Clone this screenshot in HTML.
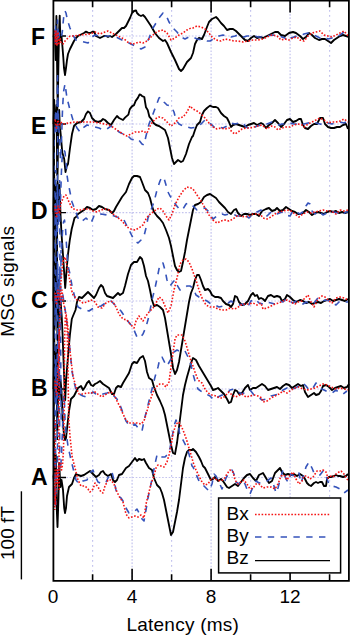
<!DOCTYPE html><html><head><meta charset="utf-8"><style>html,body{margin:0;padding:0;background:#fff;}svg{display:block;}text{font-family:"Liberation Sans",sans-serif;}</style></head><body>
<svg width="350" height="636" viewBox="0 0 350 636">
<rect width="350" height="636" fill="#fff"/>
<path d="M92.6 0.05V580.8M171.6 0.05V580.8M250.6 0.05V580.8M329.6 0.05V580.8" stroke="#c4c4ee" stroke-width="1.2" stroke-dasharray="1.8 3.2" fill="none"/>
<path d="M132.1 0.85V580.8M211.1 0.85V580.8M290.1 0.85V580.8M53.1 36.0H348.9M53.1 124.0H348.9M53.1 212.6H348.9M53.1 301.0H348.9M53.1 389.0H348.9M53.1 477.5H348.9" stroke="#c4c4ee" stroke-width="1.2" stroke-dasharray="1.65 1.653" fill="none"/>
<g fill="none" stroke-linejoin="round">
<path d="M53.5 36.0L55.0 40.0L55.7 60.0L56.4 16.0L57.1 60.0L57.8 102.0L58.5 60.0L59.1 30.0L59.7 15.6L60.4 40.0L61.4 35.0L62.3 45.0L63.3 57.5L64.0 68.0L65.0 75.0L66.0 68.0L67.0 60.0L68.0 54.0L70.0 49.0L72.0 45.0L74.0 41.0L76.0 38.0L78.0 36.0L80.0 35.0L84.0 33.0L86.0 31.6L88.0 32.6L90.0 33.0L92.0 32.0L94.0 31.6L96.0 36.0L98.0 37.0L100.0 38.0L102.0 37.0L104.0 36.0L106.0 36.0L108.0 37.0L110.0 36.0L112.0 37.0L114.0 35.6L116.0 34.0L118.0 32.0L120.0 30.0L122.0 28.0L124.0 28.0L126.0 26.0L128.0 22.0L130.0 18.0L132.0 13.0L134.0 11.0L136.0 10.4L137.0 13.0L139.0 15.0L141.0 16.0L143.0 15.0L145.0 17.0L147.0 20.0L151.0 26.0L155.0 33.0L159.0 38.0L163.0 41.0L165.0 40.0L167.0 43.0L171.0 52.0L175.0 60.0L179.0 69.0L181.0 71.0L183.0 69.0L187.0 62.0L191.0 58.0L193.0 53.0L195.0 44.0L197.0 40.0L199.0 38.0L202.0 39.0L204.0 35.0L207.0 27.0L209.0 22.0L212.0 19.0L216.0 17.0L218.0 19.0L221.0 23.0L224.0 26.0L227.0 30.0L230.0 29.0L233.0 29.0L236.0 31.0L239.0 34.0L242.0 37.0L245.0 40.0L248.0 41.0L251.0 38.0L254.0 36.0L257.0 38.0L260.0 37.0L263.0 38.0L267.0 36.0L271.0 34.0L275.0 32.0L278.0 32.0L281.0 35.0L285.0 36.0L289.0 33.0L293.0 32.0L296.0 33.0L300.0 36.0L303.0 39.0L306.0 37.0L309.0 33.0L312.0 35.0L315.0 38.0L319.0 40.0L322.0 39.0L325.0 39.0L328.0 41.0L331.0 43.0L334.0 40.0L337.0 38.0L340.0 36.0L343.0 35.0L346.0 36.0L349.0 37.0M53.5 124.0L54.2 100.0L54.8 131.0L55.5 124.0L56.5 105.0L57.2 175.0L58.0 140.0L59.2 110.0L59.9 129.0L60.4 131.0L62.3 152.5L64.2 159.0L65.5 172.0L66.6 166.6L68.0 164.0L70.0 148.0L72.0 134.0L74.0 126.0L77.0 123.0L81.0 122.0L84.0 119.0L86.0 114.0L88.0 111.4L90.0 113.0L92.0 118.0L95.0 121.0L98.0 122.0L101.0 121.0L103.0 119.0L105.0 120.0L108.0 123.0L111.0 125.0L114.0 120.0L117.0 116.0L119.0 118.0L123.0 120.0L125.0 117.6L128.4 114.6L129.7 109.4L131.9 106.4L134.0 105.1L135.7 100.9L137.9 97.9L139.6 94.4L140.9 94.9L142.1 96.1L144.3 97.0L145.1 102.1L146.0 107.3L147.7 109.9L149.4 116.7L151.6 119.3L153.3 122.7L156.0 125.0L159.0 126.0L162.0 128.0L165.0 130.0L168.0 138.0L170.0 148.0L172.0 158.0L174.0 164.0L176.0 162.0L178.0 160.0L181.0 162.0L183.0 161.0L186.0 154.0L189.0 144.0L192.0 137.0L193.0 136.0L195.0 130.0L197.0 125.0L200.0 122.0L202.0 115.0L204.0 111.0L207.0 108.0L210.0 105.6L213.0 107.0L216.0 107.0L218.0 108.0L221.0 113.0L224.0 116.0L227.0 118.0L229.0 122.0L231.0 127.0L233.0 125.0L236.0 124.0L239.0 125.0L242.0 126.0L245.0 127.0L248.0 125.0L251.0 124.0L254.0 123.0L257.0 125.0L261.0 123.0L263.0 124.0L266.0 128.0L269.0 125.0L272.0 123.0L275.0 120.0L278.0 123.0L281.0 127.0L284.0 124.0L287.0 120.0L290.0 119.0L293.0 122.0L296.0 121.0L299.0 119.0L301.0 119.0L303.0 125.0L305.0 128.0L308.0 129.0L311.0 126.0L314.0 124.0L317.0 124.0L320.0 118.0L323.0 118.0L325.0 124.0L328.0 127.0L331.0 128.0L334.0 128.0L337.0 127.0L340.0 127.0L343.0 125.0L346.0 124.0L348.0 129.0M53.5 212.0L54.2 175.0L54.8 230.0L55.5 185.0L56.5 250.0L57.5 183.0L58.5 214.0L59.5 185.0L60.5 214.0L61.4 232.0L63.0 255.0L65.2 288.0L66.6 270.0L67.9 255.0L69.8 240.0L71.7 229.0L73.0 224.0L74.5 218.0L76.0 217.0L78.0 214.0L81.0 212.0L84.0 210.0L87.0 207.0L90.0 208.0L93.0 210.0L96.0 209.0L99.0 206.0L102.0 207.0L105.0 209.0L109.0 210.0L112.0 213.0L114.0 211.0L116.0 207.0L119.0 202.0L122.0 197.0L126.0 192.0L129.0 184.0L132.0 178.0L134.0 176.0L137.0 176.0L140.0 177.0L142.0 182.0L145.0 190.0L148.0 193.0L150.0 198.0L152.0 206.0L154.0 212.0L157.0 216.0L160.0 219.0L163.0 223.0L166.0 230.0L169.0 238.0L171.0 246.0L173.0 256.0L175.0 266.0L177.0 270.0L179.0 272.0L181.0 271.0L183.0 262.0L185.0 252.0L187.0 240.0L189.0 230.0L191.0 220.0L193.0 210.0L195.0 205.0L198.0 204.0L201.0 202.0L204.0 197.0L207.0 195.0L210.0 194.0L213.0 196.0L216.0 198.0L219.0 202.0L222.0 205.0L225.0 208.0L228.0 212.0L231.0 214.0L234.0 210.0L236.0 209.0L238.0 213.0L241.0 216.0L244.0 214.0L247.0 214.0L250.0 215.0L253.0 214.0L256.0 214.0L259.0 216.0L262.0 211.0L266.0 209.0L269.0 208.0L272.0 211.0L275.0 210.0L277.0 208.0L280.0 211.0L283.0 210.0L286.0 207.0L289.0 209.0L292.0 211.0L295.0 212.0L298.0 214.0L301.0 214.0L303.0 213.0L306.0 210.0L309.0 212.0L312.0 215.0L315.0 213.0L318.0 212.0L321.0 213.0L324.0 214.0L327.0 212.0L330.0 211.0L333.0 212.0L336.0 211.0L339.0 213.0L342.0 212.0L345.0 213.0L348.0 212.0M53.5 301.0L54.0 250.0L54.6 330.0L56.5 240.0L57.5 340.0L58.5 280.0L59.5 320.0L60.5 300.0L61.7 316.0L62.6 335.0L63.5 360.0L64.5 385.0L65.2 400.0L66.1 380.0L68.0 356.6L69.9 335.0L71.8 319.0L73.0 316.0L75.5 310.0L77.0 302.0L79.0 297.0L82.0 298.0L85.0 295.0L88.0 292.0L91.0 295.0L94.0 298.0L96.0 295.0L99.0 288.0L101.0 285.0L103.0 287.0L105.0 293.0L107.0 296.0L110.0 297.0L113.0 298.0L116.0 295.0L118.0 293.0L120.0 295.0L123.0 293.0L125.0 286.0L128.0 274.0L131.0 265.0L134.0 262.0L137.0 262.0L140.0 257.0L142.0 259.0L144.0 266.0L146.0 276.0L148.0 281.0L150.0 290.0L152.0 300.0L154.0 306.0L157.0 305.0L160.0 307.0L163.0 310.0L165.0 318.0L167.0 330.0L169.0 342.0L171.0 354.0L173.0 368.0L175.0 374.0L177.0 370.0L179.0 362.0L181.0 350.0L183.0 338.0L185.0 326.0L187.0 314.0L189.0 302.0L191.0 293.0L193.0 288.0L195.0 280.0L197.0 275.0L199.0 275.0L201.0 280.0L203.0 286.0L205.0 290.0L208.0 289.0L210.0 291.0L212.0 295.0L215.0 297.0L218.0 297.0L221.0 298.0L223.0 301.0L226.0 304.0L229.0 305.0L231.0 307.0L233.0 304.0L235.0 296.0L237.0 297.0L239.0 302.0L242.0 305.0L245.0 304.0L248.0 301.0L251.0 295.0L253.0 293.0L255.0 296.0L257.0 295.0L259.0 299.0L261.0 298.0L263.0 299.0L265.0 301.0L268.0 296.0L271.0 295.0L274.0 297.0L277.0 296.0L280.0 297.0L282.0 301.0L285.0 299.0L287.0 295.0L290.0 297.0L293.0 300.0L296.0 302.0L300.0 300.0L303.0 301.0L306.0 303.0L309.0 302.0L312.0 304.0L315.0 303.0L318.0 302.0L321.0 303.0L324.0 301.0L327.0 300.0L330.0 299.0L333.0 301.0L336.0 300.0L339.0 299.0L342.0 300.0L345.0 301.0L348.0 299.0M53.5 389.0L54.3 340.0L55.0 400.0L56.5 345.0L57.3 430.0L58.5 370.0L59.5 400.0L60.5 380.0L61.4 389.0L62.8 421.5L64.0 435.0L65.0 440.0L66.0 438.0L67.0 429.0L69.0 411.0L71.0 399.0L74.0 396.0L76.0 392.0L78.0 388.0L81.0 386.0L83.0 390.0L85.0 387.0L87.0 383.0L89.0 381.0L91.0 385.0L93.0 386.0L95.0 384.0L97.0 383.0L100.0 381.0L103.0 384.0L106.0 386.0L109.0 388.0L112.0 394.0L114.0 394.0L116.0 388.0L118.0 386.0L121.0 387.0L123.0 383.0L126.0 378.0L129.0 373.0L132.0 364.0L134.0 362.0L137.0 363.0L140.0 358.0L143.0 356.0L145.0 361.0L147.0 372.0L149.0 378.0L152.0 380.0L154.0 387.0L157.0 395.0L160.0 401.0L163.0 408.0L165.0 415.0L167.0 425.0L169.0 435.0L171.0 445.0L173.0 453.0L175.0 454.0L177.0 443.0L179.0 427.0L181.0 411.0L183.0 395.0L185.0 385.0L187.0 377.0L189.0 370.0L191.0 363.0L193.0 358.0L196.0 360.0L199.0 366.0L202.0 371.0L205.0 376.0L208.0 381.0L211.0 386.0L213.0 390.0L216.0 389.0L218.0 388.0L221.0 391.0L224.0 394.0L227.0 399.0L229.0 403.0L231.0 402.0L233.0 395.0L235.0 390.0L237.0 391.0L239.0 394.0L242.0 393.0L245.0 388.0L248.0 385.0L250.0 390.0L253.0 388.0L256.0 388.0L259.0 386.0L262.0 384.0L265.0 386.0L268.0 390.0L271.0 389.0L274.0 388.0L277.0 387.0L280.0 389.0L283.0 386.0L286.0 384.0L289.0 385.0L292.0 388.0L295.0 386.0L298.0 384.0L301.0 386.0L303.0 385.0L305.0 392.0L308.0 397.0L311.0 395.0L314.0 393.0L316.0 395.0L319.0 394.0L321.0 391.0L323.0 386.0L326.0 385.0L329.0 387.0L332.0 390.0L335.0 388.0L338.0 387.0L341.0 386.0L344.0 388.0L347.0 387.0L349.0 384.0M53.5 477.0L55.0 465.0L55.8 455.0L56.6 505.0L57.5 527.0L58.4 500.0L59.2 463.0L60.4 487.0L61.5 480.0L63.0 490.0L64.2 508.0L65.0 513.0L66.0 508.0L67.0 496.0L69.0 487.0L72.0 484.0L74.0 478.0L76.0 474.0L78.0 475.0L81.0 476.0L84.0 475.0L87.0 473.0L90.0 471.0L93.0 474.0L96.0 477.0L99.0 475.0L101.0 472.0L103.0 471.0L105.0 474.0L108.0 476.0L111.0 474.0L113.0 480.0L115.0 482.0L117.0 480.0L119.0 475.0L122.0 474.0L126.0 468.0L129.0 466.0L132.0 462.0L135.0 458.0L137.0 461.0L139.0 459.0L142.0 460.0L144.0 459.0L146.0 463.0L149.0 468.0L152.0 470.0L154.0 478.0L157.0 485.0L160.0 488.0L162.0 493.0L164.0 500.0L166.0 510.0L168.0 520.0L170.0 530.0L171.0 535.0L173.0 532.0L175.0 522.0L177.0 512.0L179.0 500.0L181.0 484.0L183.0 468.0L185.0 458.0L187.0 452.0L189.0 450.0L192.0 450.0L193.0 449.0L196.0 452.0L199.0 457.0L201.0 461.0L203.0 466.0L205.0 468.0L207.0 472.0L209.0 476.0L211.0 480.0L213.0 479.0L215.0 477.0L218.0 481.0L221.0 479.0L223.0 481.0L225.0 484.0L227.0 487.0L229.0 488.0L232.0 486.0L235.0 484.0L238.0 486.0L241.0 482.0L244.0 478.0L247.0 475.0L250.0 474.0L253.0 478.0L256.0 481.0L259.0 475.0L263.0 473.0L266.0 478.0L269.0 483.0L272.0 481.0L275.0 473.0L278.0 470.0L280.0 468.0L282.0 472.0L285.0 475.0L288.0 474.0L291.0 475.0L294.0 474.0L297.0 476.0L300.0 474.0L303.0 476.0L305.0 479.0L307.0 483.0L309.0 485.0L311.0 486.0L314.0 483.0L316.0 482.0L318.0 483.0L320.0 482.0L322.0 482.0L324.0 486.0L326.0 486.0L327.0 479.0L329.0 477.0L331.0 477.0L334.0 476.0L336.0 475.0L338.0 476.0L340.0 476.0L343.0 477.0L346.0 476.0L348.0 474.0" stroke="#000" stroke-width="1.85"/>
<path d="M54.1 100L54.3 250L54 400L54.2 460M57.3 60L57.8 150L57.2 250L57.7 350L57.3 440" stroke="#000" stroke-width="1.5"/>
<path d="M60.4 36.0H66M60.4 124.0H66M60.4 212.6H66M60.4 301.0H66M60.4 389.0H66M60.4 477.5H66" stroke="#000" stroke-width="1.4"/>
<path d="M53.5 36.0L54.5 42.0L55.5 24.0L56.5 44.0L57.5 20.0L58.5 40.0L59.5 33.0L60.5 38.0L61.5 36.0L62.3 32.0L63.0 24.0L64.0 14.0L65.0 11.0L66.0 13.0L67.0 18.0L68.0 22.0L70.0 28.0L72.0 33.0L74.0 37.0L76.0 40.0L80.0 41.0L84.0 42.0L88.0 43.0L90.0 40.0L92.0 37.0L95.0 35.0L99.0 36.0L103.0 37.0L106.0 36.0L110.0 36.0L114.0 36.0L118.0 38.0L122.0 40.0L126.0 42.0L129.0 43.0L135.0 46.0L141.0 49.0L145.0 47.0L149.0 38.0L153.0 28.0L159.0 18.0L163.0 13.0L166.0 15.0L169.0 22.0L173.0 28.0L177.0 32.0L181.0 37.0L185.0 39.0L189.0 37.0L193.0 37.0L197.0 39.0L203.0 40.0L207.0 41.0L210.0 41.0L215.0 38.0L219.0 36.0L223.0 35.0L226.0 36.0L231.0 37.0L235.0 36.0L238.0 35.0L241.0 36.0L244.0 37.0L247.0 36.0L251.0 36.0L255.0 36.0L258.0 37.0L261.0 37.0L263.0 37.0L267.0 36.0L273.0 35.0L279.0 36.0L285.0 38.0L287.0 41.0L291.0 38.0L297.0 36.0L300.0 36.0L304.0 34.0L308.0 33.0L312.0 34.0L316.0 36.0L320.0 38.0L324.0 37.0L328.0 39.0L332.0 38.0L336.0 37.0L340.0 35.0L344.0 32.0L348.0 33.0M53.5 124.0L54.5 135.0L55.5 110.0L56.5 135.0L57.5 78.0L58.5 120.0L59.5 140.0L60.5 160.0L61.5 140.0L62.5 110.0L63.5 92.0L65.0 84.0L67.0 98.0L70.0 110.0L73.0 120.0L77.0 128.0L80.0 132.0L83.0 128.0L87.0 125.0L91.0 126.0L95.0 127.0L99.0 128.0L103.0 130.0L107.0 129.0L111.0 126.0L115.0 128.0L119.0 132.0L123.0 134.0L127.0 135.0L131.0 139.0L135.0 140.0L138.0 139.0L142.0 144.0L144.0 145.0L146.0 136.0L149.0 124.0L153.0 114.0L156.0 106.0L159.0 98.0L161.0 97.0L164.0 102.0L167.0 105.0L171.0 106.0L174.0 112.0L176.0 120.0L179.0 124.0L183.0 126.0L187.0 127.0L191.0 128.0L197.0 127.0L201.0 124.0L205.0 120.0L208.0 122.0L212.0 125.0L215.0 128.0L219.0 127.0L223.0 128.0L227.0 126.0L231.0 123.0L235.0 124.0L239.0 123.0L243.0 123.0L246.0 127.0L250.0 129.0L253.0 128.0L257.0 126.0L261.0 125.0L263.0 126.0L267.0 124.0L272.0 122.0L275.0 123.0L279.0 125.0L282.0 124.0L286.0 124.0L290.0 123.0L294.0 124.0L298.0 124.0L301.0 125.0L304.0 124.0L308.0 123.0L312.0 122.0L316.0 123.0L320.0 124.0L324.0 125.0L328.0 123.0L332.0 124.0L336.0 123.0L340.0 122.0L344.0 123.0L348.0 121.0M53.5 212.0L54.5 225.0L55.5 195.0L56.5 235.0L57.5 185.0L58.5 225.0L59.5 190.0L60.5 200.0L61.3 175.0L62.0 160.0L63.0 152.0L64.0 150.0L65.0 152.0L66.0 162.0L67.0 175.0L68.0 182.0L70.0 192.0L72.0 202.0L75.0 210.0L78.0 218.0L81.0 222.0L86.0 218.0L91.0 223.0L94.0 216.0L98.0 216.0L101.0 214.0L107.0 215.0L111.0 215.0L117.0 217.0L123.0 218.0L126.0 224.0L129.0 230.0L132.0 236.0L135.0 241.0L138.0 243.0L141.0 240.0L144.0 236.0L146.0 228.0L148.0 218.0L151.0 210.0L154.0 202.0L157.0 190.0L160.0 181.0L162.0 177.0L164.0 178.0L166.0 185.0L168.0 192.0L170.0 196.0L173.0 200.0L176.0 205.0L180.0 210.0L183.0 209.0L186.0 204.0L189.0 203.0L192.0 205.0L197.0 210.0L201.0 209.0L205.0 208.0L209.0 212.0L213.0 219.0L217.0 216.0L222.0 214.0L225.0 215.0L229.0 214.0L233.0 214.0L237.0 216.0L241.0 216.0L245.0 215.0L249.0 218.0L253.0 214.0L257.0 212.0L261.0 210.0L265.0 214.0L267.0 216.0L271.0 212.0L274.0 213.0L277.0 214.0L282.0 212.0L285.0 215.0L290.0 216.0L293.0 211.0L296.0 212.0L300.0 214.0L304.0 211.0L306.0 206.0L308.0 203.0L310.0 204.0L312.0 211.0L315.0 214.0L319.0 211.0L323.0 215.0L327.0 213.0L331.0 211.0L334.0 212.0L338.0 213.0L342.0 215.0L346.0 212.0L348.0 212.0M53.5 301.0L54.5 315.0L55.5 280.0L56.5 320.0L57.5 262.0L58.5 300.0L59.5 270.0L60.5 280.0L61.5 250.0L62.5 232.0L63.5 222.0L64.5 220.0L65.5 228.0L66.5 245.0L67.5 260.0L68.5 268.0L70.0 274.0L72.0 286.0L75.0 298.0L78.0 307.0L82.0 309.0L86.0 310.0L89.0 311.0L92.0 309.0L95.0 308.0L98.0 307.0L101.0 306.0L104.0 304.0L107.0 302.0L111.0 301.0L114.0 304.0L117.0 307.0L121.0 311.0L123.0 314.0L127.0 320.0L131.0 325.0L134.0 330.0L137.0 337.0L140.0 338.0L143.0 334.0L146.0 327.0L149.0 316.0L152.0 300.0L155.0 288.0L158.0 274.0L160.0 264.0L163.0 263.0L165.0 270.0L167.0 280.0L170.0 286.0L173.0 282.0L175.0 280.0L177.0 285.0L180.0 290.0L183.0 289.0L187.0 286.0L190.0 286.0L193.0 288.0L196.0 295.0L199.0 297.0L203.0 299.0L207.0 301.0L211.0 304.0L215.0 305.0L219.0 307.0L223.0 306.0L227.0 304.0L231.0 301.0L235.0 304.0L239.0 305.0L243.0 304.0L247.0 308.0L251.0 301.0L255.0 299.0L259.0 303.0L263.0 304.0L267.0 302.0L271.0 303.0L275.0 304.0L279.0 301.0L283.0 302.0L286.0 299.0L289.0 301.0L293.0 303.0L296.0 301.0L300.0 303.0L303.0 304.0L306.0 302.0L310.0 304.0L314.0 303.0L318.0 298.0L322.0 301.0L326.0 300.0L330.0 301.0L333.0 303.0L336.0 305.0L340.0 301.0L344.0 302.0L348.0 302.0M53.5 389.0L54.5 400.0L55.5 360.0L56.5 405.0L57.5 345.0L58.5 380.0L59.5 330.0L60.5 315.0L61.5 298.0L62.5 292.0L63.6 300.0L65.5 312.0L67.3 326.0L70.0 350.0L72.0 371.0L73.6 380.0L76.0 390.0L79.0 394.0L83.0 396.0L86.0 397.0L89.0 395.0L93.0 392.0L96.0 394.0L99.0 395.0L103.0 394.0L107.0 393.0L110.0 392.0L113.0 395.0L117.0 399.0L120.0 405.0L123.0 413.0L126.0 421.0L129.0 425.0L132.0 426.0L135.0 424.0L139.0 429.0L142.0 431.0L144.0 421.0L146.0 413.0L149.0 401.0L152.0 389.0L155.0 377.0L158.0 367.0L160.0 358.0L162.0 357.0L165.0 363.0L167.0 366.0L171.0 359.0L174.0 352.0L177.0 350.0L181.0 352.0L185.0 351.0L188.0 357.0L191.0 365.0L193.0 374.0L195.0 381.0L198.0 389.0L202.0 392.0L206.0 394.0L210.0 396.0L214.0 400.0L218.0 397.0L222.0 395.0L226.0 395.0L230.0 390.0L234.0 389.0L238.0 392.0L242.0 394.0L246.0 392.0L250.0 390.0L254.0 395.0L258.0 397.0L262.0 400.0L267.0 399.0L271.0 396.0L275.0 395.0L279.0 394.0L283.0 390.0L287.0 388.0L291.0 390.0L295.0 388.0L299.0 386.0L303.0 383.0L306.0 386.0L309.0 390.0L313.0 388.0L316.0 383.0L320.0 388.0L324.0 390.0L328.0 392.0L332.0 393.0L336.0 390.0L340.0 393.0L343.0 394.0L347.0 391.0M53.5 477.0L54.5 495.0L55.5 505.0L56.5 480.0L57.5 470.0L58.5 476.0L59.5 465.0L60.5 470.0L61.5 455.0L62.5 430.0L63.2 405.0L63.8 395.0L64.4 400.0L65.0 420.0L66.0 432.0L67.3 441.0L68.0 446.0L71.0 460.0L74.0 472.0L76.0 480.0L79.0 484.0L83.0 481.0L87.0 480.0L90.0 473.0L93.0 470.0L95.0 476.0L98.0 482.0L102.0 484.0L106.0 482.0L110.0 474.0L112.0 472.0L114.0 480.0L116.0 490.0L118.0 496.0L121.0 498.0L123.0 501.0L126.0 508.0L129.0 513.0L132.0 512.0L135.0 511.0L137.0 509.0L139.0 513.0L142.0 519.0L144.0 521.0L146.0 510.0L148.0 498.0L151.0 484.0L153.0 474.0L155.0 464.0L157.0 455.0L159.0 454.0L162.0 457.0L165.0 457.0L168.0 454.0L170.0 448.0L172.0 438.0L174.0 426.0L176.0 420.0L178.0 424.0L180.0 436.0L183.0 440.0L186.0 446.0L189.0 454.0L192.0 466.0L193.0 467.0L196.0 474.0L199.0 481.0L202.0 484.0L205.0 487.0L209.0 491.0L212.0 484.0L214.0 474.0L216.0 476.0L219.0 482.0L222.0 489.0L224.0 484.0L226.0 478.0L229.0 473.0L232.0 470.0L234.0 474.0L236.0 482.0L239.0 484.0L242.0 480.0L245.0 484.0L248.0 492.0L250.0 494.0L253.0 487.0L256.0 481.0L259.0 483.0L263.0 482.0L267.0 481.0L271.0 478.0L274.0 486.0L276.0 493.0L278.0 488.0L280.0 480.0L283.0 470.0L286.0 479.0L288.0 482.0L291.0 474.0L295.0 477.0L299.0 473.0L301.0 483.0L304.0 474.0L306.0 467.0L309.0 462.0L312.0 468.0L314.0 473.0L317.0 474.0L320.0 475.0L323.0 471.0L325.0 473.0L327.0 479.0L329.0 484.0L332.0 486.0L336.0 487.0L340.0 489.0L344.0 493.0L348.0 490.0" stroke="#3553bb" stroke-width="1.6" stroke-dasharray="6.4 6.4"/>
<path d="M54.2 130L54.6 200L54 300L54.5 420L54.2 508M53.9 230L54.2 330L53.9 440M55.8 170L55.6 220L56.1 330L55.7 440L55.6 505M57.6 75L57.9 100L57.3 200L57.8 300L57.4 420L57.6 470M59.6 180L59.9 250L59.4 350L59.8 460M61 250L60.6 330L61.1 420" stroke="#3553bb" stroke-width="1.5" stroke-dasharray="6.4 6.4" stroke-dashoffset="3"/>
<path d="M53.5 36.0L54.3 30.0L55.2 44.0L56.0 31.0L57.0 46.0L58.0 32.0L59.0 45.0L60.0 38.0L61.0 42.0L62.0 44.0L63.0 44.0L65.0 41.0L68.0 38.0L70.0 36.0L74.0 36.0L80.0 35.0L85.0 34.5L90.0 34.0L95.0 32.0L100.0 34.0L105.0 32.0L108.0 31.0L112.0 33.0L118.0 36.0L124.0 39.0L129.0 43.0L133.0 44.0L139.0 42.0L143.0 43.0L147.0 41.0L151.0 37.0L155.0 33.0L159.0 31.0L163.0 30.0L167.0 33.0L171.0 40.0L175.0 38.0L179.0 35.0L183.0 33.0L187.0 30.0L191.0 28.0L193.0 28.0L197.0 26.0L201.0 27.0L205.0 29.0L209.0 33.0L212.0 37.0L216.0 40.0L221.0 41.0L225.0 39.0L230.0 40.0L234.0 41.0L238.0 41.0L243.0 42.0L248.0 41.0L253.0 40.0L258.0 40.0L263.0 39.0L267.0 37.0L272.0 35.0L277.0 36.0L281.0 40.0L285.0 39.0L289.0 40.0L293.0 38.0L297.0 37.0L300.0 40.0L304.0 41.0L308.0 36.0L312.0 33.0L316.0 32.0L320.0 31.0L324.0 35.0L328.0 36.0L332.0 37.0L336.0 35.0L340.0 33.0L344.0 31.0L348.0 36.0M53.5 124.0L55.0 119.0L56.5 128.0L58.0 120.0L59.5 126.0L60.5 122.0L63.0 124.0L69.0 123.0L75.0 122.0L81.0 122.0L87.0 122.0L93.0 122.0L99.0 123.0L105.0 124.0L111.0 126.0L117.0 130.0L123.0 134.0L127.0 136.0L131.0 134.0L135.0 132.0L139.0 132.0L143.0 131.0L147.0 133.0L151.0 124.0L155.0 119.0L159.0 117.0L163.0 118.0L167.0 122.0L171.0 126.0L175.0 123.0L179.0 118.0L183.0 117.0L187.0 112.0L190.0 106.0L193.0 109.0L197.0 111.0L201.0 114.0L205.0 118.0L209.0 123.0L213.0 127.0L217.0 129.0L221.0 128.0L225.0 129.0L229.0 128.0L232.0 132.0L235.0 134.0L238.0 132.0L242.0 129.0L246.0 128.0L250.0 128.0L254.0 127.0L258.0 126.0L262.0 125.0L267.0 129.0L271.0 126.0L275.0 127.0L278.0 130.0L282.0 128.0L286.0 127.0L290.0 127.0L294.0 125.0L298.0 124.0L302.0 125.0L304.0 127.0L308.0 124.0L312.0 122.0L316.0 120.0L320.0 118.0L324.0 120.0L328.0 123.0L332.0 122.0L336.0 122.0L340.0 121.0L344.0 119.0L348.0 122.0M53.5 214.0L55.0 205.0L56.5 218.0L58.0 206.0L59.5 214.0L60.5 205.0L61.5 202.0L64.0 196.0L66.0 195.0L69.0 202.0L72.0 208.0L76.0 210.0L81.0 210.0L85.0 209.0L89.0 209.0L93.0 211.0L97.0 212.0L101.0 210.0L105.0 209.0L109.0 210.0L113.0 214.0L117.0 217.0L122.0 221.0L127.0 227.0L131.0 229.0L135.0 230.0L139.0 228.0L143.0 225.0L146.0 219.0L149.0 215.0L153.0 212.0L157.0 209.0L160.0 208.0L163.0 211.0L166.0 216.0L169.0 220.0L172.0 214.0L175.0 205.0L179.0 197.0L183.0 191.0L187.0 187.0L191.0 188.0L193.0 189.0L197.0 195.0L201.0 201.0L205.0 208.0L209.0 215.0L213.0 220.0L217.0 223.0L221.0 221.0L225.0 220.0L229.0 221.0L233.0 219.0L237.0 216.0L241.0 216.0L245.0 217.0L249.0 216.0L253.0 214.0L257.0 214.0L261.0 215.0L263.0 218.0L267.0 219.0L271.0 217.0L275.0 214.0L279.0 212.0L283.0 211.0L287.0 210.0L291.0 211.0L295.0 214.0L299.0 217.0L303.0 214.0L307.0 212.0L311.0 213.0L315.0 212.0L319.0 211.0L323.0 210.0L327.0 211.0L331.0 211.0L336.0 214.0L340.0 210.0L344.0 211.0L348.0 210.0M53.5 301.0L55.0 292.0L56.5 305.0L58.0 290.0L59.5 300.0L60.5 288.0L61.5 275.0L62.5 265.0L63.5 259.0L65.0 257.0L67.0 266.0L69.0 276.0L71.2 289.0L73.1 295.0L75.0 297.0L77.0 300.0L79.0 300.0L83.0 303.0L87.0 302.0L91.0 300.0L95.0 302.0L98.0 307.0L102.0 308.0L106.0 303.0L110.0 301.0L113.0 302.0L116.0 307.0L119.0 314.0L123.0 319.0L127.0 320.0L131.0 325.0L134.0 328.0L136.0 321.0L139.0 316.0L143.0 321.0L146.0 316.0L149.0 312.0L153.0 308.0L156.0 303.0L159.0 297.0L162.0 299.0L165.0 306.0L168.0 313.0L171.0 306.0L174.0 290.0L177.0 278.0L180.0 264.0L183.0 260.0L186.0 259.0L189.0 262.0L192.0 269.0L193.0 272.0L196.0 280.0L199.0 290.0L202.0 298.0L206.0 305.0L210.0 307.0L214.0 307.0L218.0 309.0L222.0 310.0L226.0 310.0L230.0 308.0L234.0 309.0L237.0 308.0L241.0 305.0L245.0 304.0L249.0 304.0L253.0 303.0L257.0 305.0L261.0 303.0L263.0 309.0L267.0 308.0L271.0 306.0L275.0 304.0L279.0 303.0L283.0 301.0L287.0 300.0L291.0 302.0L295.0 304.0L298.0 302.0L302.0 301.0L304.0 299.0L308.0 295.0L311.0 302.0L314.0 307.0L318.0 299.0L322.0 296.0L325.0 297.0L329.0 301.0L332.0 303.0L336.0 298.0L340.0 297.0L344.0 298.0L348.0 300.0M53.5 389.0L55.0 380.0L56.5 395.0L58.0 370.0L59.5 330.0L60.5 300.0L62.0 290.0L63.0 300.0L65.0 310.0L67.3 322.0L70.2 353.0L73.0 376.6L76.4 388.0L79.0 394.0L83.0 394.0L87.0 393.0L91.0 393.0L95.0 392.0L99.0 395.0L102.0 397.0L105.0 395.0L108.0 393.0L111.0 392.0L114.0 395.0L117.0 401.0L120.0 407.0L123.0 414.0L126.0 420.0L129.0 423.0L133.0 423.0L137.0 423.0L141.0 424.0L144.0 421.0L147.0 411.0L150.0 401.0L153.0 392.0L156.0 387.0L160.0 384.0L163.0 384.0L166.0 387.0L169.0 382.0L171.0 367.0L173.0 353.0L175.0 339.0L177.0 335.0L182.0 335.0L185.0 341.0L188.0 351.0L191.0 361.0L193.0 366.0L195.0 372.0L198.0 380.0L202.0 383.0L205.0 389.0L208.0 393.0L212.0 395.0L216.0 396.0L220.0 398.0L223.0 398.0L226.0 395.0L229.0 392.0L232.0 395.0L235.0 397.0L238.0 396.0L242.0 394.0L246.0 397.0L250.0 396.0L254.0 395.0L258.0 396.0L262.0 398.0L263.0 402.0L267.0 401.0L271.0 398.0L275.0 396.0L279.0 394.0L283.0 391.0L287.0 393.0L291.0 390.0L295.0 388.0L299.0 387.0L303.0 389.0L307.0 390.0L311.0 389.0L315.0 388.0L319.0 386.0L323.0 384.0L327.0 385.0L331.0 387.0L336.0 389.0L340.0 388.0L344.0 389.0L348.0 390.0M53.5 477.0L54.5 490.0L55.5 505.0L56.5 470.0L57.5 485.0L58.5 465.0L59.5 470.0L60.5 462.0L61.5 470.0L62.5 465.0L63.5 450.0L64.0 420.0L64.3 380.0L64.6 340.0L65.3 318.0L66.3 315.0L67.2 330.0L67.8 360.0L68.3 390.0L68.8 420.0L70.0 436.0L72.0 456.0L75.0 468.0L78.0 480.0L81.0 486.0L85.0 486.0L88.0 489.0L90.0 492.0L93.0 489.0L95.0 483.0L98.0 487.0L101.0 492.0L103.0 493.0L105.0 486.0L108.0 480.0L111.0 480.0L114.0 484.0L117.0 492.0L120.0 498.0L123.0 502.0L126.0 514.0L129.0 518.0L132.0 517.0L135.0 516.0L138.0 517.0L141.0 515.0L144.0 518.0L146.0 504.0L148.0 496.0L151.0 484.0L154.0 476.0L156.0 468.0L158.0 465.0L161.0 466.0L164.0 467.0L167.0 462.0L169.0 455.0L171.0 446.0L173.0 434.0L176.0 424.0L179.0 422.0L183.0 430.0L186.0 438.0L189.0 448.0L192.0 458.0L193.0 462.0L196.0 470.0L199.0 476.0L202.0 482.0L205.0 485.0L208.0 484.0L211.0 479.0L214.0 478.0L217.0 480.0L221.0 481.0L224.0 479.0L227.0 474.0L230.0 470.0L233.0 472.0L235.0 480.0L238.0 484.0L241.0 482.0L244.0 480.0L247.0 484.0L250.0 489.0L253.0 488.0L256.0 484.0L259.0 484.0L263.0 488.0L267.0 487.0L271.0 487.0L275.0 489.0L278.0 484.0L281.0 476.0L284.0 475.0L287.0 480.0L290.0 475.0L293.0 472.0L296.0 479.0L299.0 484.0L302.0 481.0L304.0 476.0L307.0 476.0L310.0 479.0L313.0 477.0L315.0 474.0L317.0 471.0L320.0 471.0L323.0 470.0L326.0 472.0L328.0 478.0L330.0 476.0L333.0 477.0L336.0 474.0L339.0 472.0L341.0 471.0L344.0 474.0L347.0 479.0L349.0 481.0" stroke="#f51414" stroke-width="1.6" stroke-dasharray="1.6 1.7"/>
<path d="M55.2 420L54.8 510M59.2 330L58.8 420L59.2 490" stroke="#f51414" stroke-width="1.6" stroke-dasharray="1.6 1.7"/>
</g>
<path d="M53.4 0.6V580.8H348.9V0.6Z" stroke="#000" stroke-width="1.8" fill="none"/>
<path d="M92.6 580.8v-6.6M92.6 0.6v6.6M132.1 580.8v-12.0M132.1 0.6v12.0M171.6 580.8v-6.6M171.6 0.6v6.6M211.1 580.8v-12.0M211.1 0.6v12.0M250.6 580.8v-6.6M250.6 0.6v6.6M290.1 580.8v-12.0M290.1 0.6v12.0M329.6 580.8v-6.6M329.6 0.6v6.6" stroke="#000" stroke-width="1.6" fill="none"/>
<text x="53.1" y="603.4" font-size="19" text-anchor="middle">0</text>
<text x="132.1" y="603.4" font-size="19" text-anchor="middle">4</text>
<text x="211.1" y="603.4" font-size="19" text-anchor="middle">8</text>
<text x="290.1" y="603.4" font-size="19" text-anchor="middle">12</text>
<text x="126.4" y="631" font-size="19" letter-spacing="0.24">Latency (ms)</text>
<text x="31" y="45.1" font-size="23" font-weight="bold">F</text>
<text x="31" y="134.2" font-size="23" font-weight="bold">E</text>
<text x="31" y="219.2" font-size="23" font-weight="bold">D</text>
<text x="31" y="308.0" font-size="23" font-weight="bold">C</text>
<text x="31" y="396.0" font-size="23" font-weight="bold">B</text>
<text x="31" y="485.0" font-size="23" font-weight="bold">A</text>
<text transform="translate(14.4 336.8) rotate(-90)" font-size="19" letter-spacing="0.3">MSG signals</text>
<text transform="translate(14.3 560) rotate(-90)" font-size="19">100 fT</text>
<path d="M21.4 491.3V579.4" stroke="#000" stroke-width="1.4"/>
<rect x="218.6" y="498" width="122" height="74.9" fill="#fff" stroke="#000" stroke-width="1.5"/>
<text x="226.5" y="519.6" font-size="19">Bx</text>
<text x="226.5" y="541.8" font-size="19">By</text>
<text x="226.5" y="564" font-size="19">Bz</text>
<path d="M255 514.5H330" stroke="#f51414" stroke-width="1.6" stroke-dasharray="1.6 1.7"/>
<path d="M255 537H330" stroke="#3553bb" stroke-width="1.5" stroke-dasharray="6.4 6.4"/>
<path d="M255 560.6H330" stroke="#000" stroke-width="1.4"/>
</svg></body></html>
